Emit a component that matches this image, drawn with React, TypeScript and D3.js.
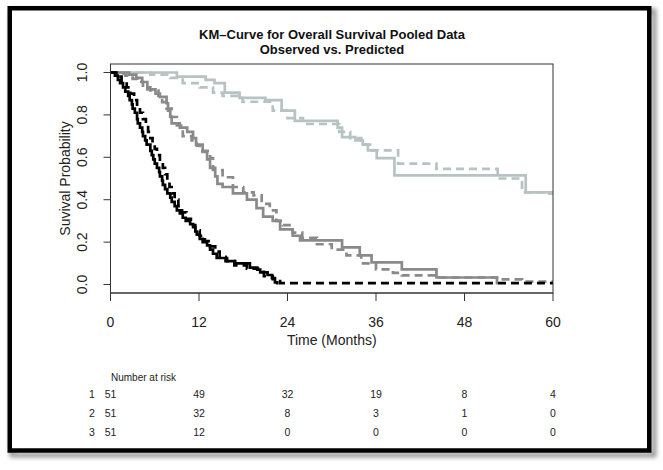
import React from "react";
import * as d3 from "d3";

// ---- data ----
const timeTicks = [0, 12, 24, 36, 48, 60];
const survTicks = [0, 0.2, 0.4, 0.6, 0.8, 1.0];
const riskGroups = ["1", "2", "3"];
const riskGroup1 = [51, 49, 32, 19, 8, 4];
const riskGroup2 = [51, 32, 8, 3, 1, 0];
const riskGroup3 = [51, 12, 0, 0, 0, 0];

// step curves: [time (months), survival after that time]
const g1Observed: [number, number][] = [
  [0, 1], [9.0, 0.98], [12.9, 0.965], [14.1, 0.95], [15.5, 0.905], [17.5, 0.88],
  [21.0, 0.87], [23.2, 0.82], [25.0, 0.772], [30.8, 0.74], [31.4, 0.695],
  [33.2, 0.68], [34.2, 0.66], [34.9, 0.633], [36.1, 0.596], [38.5, 0.515],
  [56.3, 0.435], [60, 0.435],
];
const g1Predicted: [number, number][] = [
  [0, 1], [5.4, 0.99], [8.1, 0.975], [9.8, 0.95], [12.1, 0.93], [13.9, 0.905],
  [15.2, 0.89], [17.9, 0.862], [22.0, 0.82], [24.0, 0.785], [26.1, 0.757],
  [31.0, 0.72], [32.5, 0.69], [34.0, 0.66], [35.5, 0.633], [39.0, 0.57],
  [44.2, 0.545], [52.5, 0.5], [55.8, 0.435], [59.5, 0.428], [60, 0.428],
];
const g2Observed: [number, number][] = [
  [0, 1], [2.5, 0.99], [3.5, 0.975], [4.3, 0.955], [5.0, 0.92], [6.1, 0.9],
  [6.7, 0.885], [7.6, 0.855], [7.8, 0.82], [8.1, 0.79], [8.3, 0.76], [9.4, 0.74],
  [10.4, 0.72], [11.2, 0.69], [11.6, 0.66], [12.5, 0.625], [13.1, 0.59],
  [13.5, 0.55], [14.2, 0.51], [14.5, 0.475], [15.2, 0.46], [16.6, 0.43],
  [18.5, 0.4], [19.8, 0.36], [20.7, 0.32], [22.0, 0.3], [23.0, 0.26],
  [24.7, 0.23], [25.7, 0.208], [31.4, 0.175], [33.8, 0.137], [35.4, 0.104],
  [39.5, 0.071], [44.2, 0.033], [52.4, 0.0],
];
const g2Predicted: [number, number][] = [
  [0, 1], [1.3, 0.995], [2.0, 0.985], [3.0, 0.97], [3.6, 0.955], [4.4, 0.93],
  [5.4, 0.915], [6.5, 0.89], [7.0, 0.86], [7.6, 0.83], [8.3, 0.79], [9.0, 0.75],
  [9.8, 0.7], [11.0, 0.68], [11.7, 0.655], [12.1, 0.63], [13.5, 0.596],
  [13.9, 0.54], [15.2, 0.506], [16.6, 0.46], [18.0, 0.435], [19.4, 0.42],
  [20.5, 0.38], [21.6, 0.35], [22.5, 0.3], [23.4, 0.28], [24.7, 0.245],
  [26.0, 0.22], [28.0, 0.19], [30.0, 0.165], [32.0, 0.137], [34.0, 0.1],
  [36.0, 0.071], [38.3, 0.055], [39.5, 0.043], [44.2, 0.033], [52.4, 0.024],
  [55.8, 0.014], [60, 0.014],
];
const g3Observed: [number, number][] = [
  [0, 1], [0.6, 0.985], [1.0, 0.965], [1.3, 0.95], [1.7, 0.93], [2.0, 0.91],
  [2.4, 0.89], [2.6, 0.87], [2.9, 0.85], [3.0, 0.83], [3.3, 0.81], [3.6, 0.78],
  [3.7, 0.76], [4.0, 0.74], [4.3, 0.72], [4.4, 0.7], [4.7, 0.68], [4.9, 0.66],
  [5.4, 0.63], [5.6, 0.61], [5.8, 0.59], [6.0, 0.57], [6.3, 0.55], [6.6, 0.53],
  [6.7, 0.51], [7.0, 0.49], [7.1, 0.47], [7.4, 0.45], [7.7, 0.43], [8.1, 0.41],
  [8.3, 0.39], [8.7, 0.37], [9.0, 0.35], [9.4, 0.335], [9.8, 0.315],
  [10.2, 0.3], [10.8, 0.285], [11.2, 0.27], [11.5, 0.25], [11.7, 0.235],
  [12.1, 0.215], [12.5, 0.2], [13.1, 0.185], [13.5, 0.165], [13.9, 0.145],
  [14.4, 0.125], [15.8, 0.11], [16.9, 0.1], [18.9, 0.08], [19.9, 0.07],
  [20.3, 0.057], [21.3, 0.045], [21.9, 0.03], [22.3, 0.01], [22.6, 0.0],
];
const g3Predicted: [number, number][] = [
  [0, 1], [0.8, 0.98], [1.5, 0.955], [2.2, 0.93], [2.7, 0.9], [3.2, 0.87],
  [3.6, 0.84], [4.0, 0.81], [4.4, 0.78], [4.8, 0.75], [5.1, 0.72], [5.4, 0.69],
  [5.7, 0.665], [6.0, 0.64], [6.3, 0.61], [6.7, 0.58], [7.1, 0.55], [7.4, 0.52],
  [7.7, 0.49], [8.0, 0.46], [8.3, 0.43], [8.7, 0.4], [9.2, 0.37], [9.7, 0.34],
  [10.3, 0.31], [10.9, 0.28], [11.5, 0.255], [12.1, 0.23], [12.8, 0.205],
  [13.5, 0.18], [14.2, 0.155], [14.8, 0.13], [15.6, 0.11], [16.8, 0.09],
  [18.5, 0.075], [20.0, 0.06], [20.8, 0.04], [22.0, 0.025], [23.0, 0.007],
  [60, 0.007],
];

const curves = [
  { data: g1Observed, color: "#b7c3c3", dashed: false },
  { data: g1Predicted, color: "#b7c3c3", dashed: true },
  { data: g2Observed, color: "#8a8a8a", dashed: false },
  { data: g2Predicted, color: "#8a8a8a", dashed: true },
  { data: g3Observed, color: "#000000", dashed: false },
  { data: g3Predicted, color: "#000000", dashed: true },
];

const FONT = "'Liberation Sans', Arial, sans-serif";

export default function App() {
  const W = 663, H = 470;
  const left = 110.5, right = 553, top = 64, bottom = 293;
  const x = d3.scaleLinear().domain([0, 60]).range([left, right]);
  const y = d3.scaleLinear().domain([-0.04, 1.04]).range([bottom, top]);
  const line = d3
    .line<[number, number]>()
    .x((d) => x(d[0]))
    .y((d) => y(d[1]))
    .curve(d3.curveStepAfter);

  const riskRows = [riskGroup1, riskGroup2, riskGroup3];
  const rowY = [398, 417, 436];

  return (
    <svg
      width={W}
      height={H}
      style={{ position: "absolute", left: 0, top: 0, background: "#fff" }}
      fontFamily={FONT}
    >
      <defs>
        <filter id="sh" x="-5%" y="-5%" width="110%" height="110%">
          <feGaussianBlur stdDeviation="2" />
        </filter>
      </defs>
      <rect x={12} y={11} width={642} height={444} fill="none" stroke="#9a9a9a" strokeWidth={5} filter="url(#sh)" />
      <rect x={9.75} y={8.25} width={639.5} height={442.25} fill="#fff" stroke="#000" strokeWidth={4.5} />

      {/* title */}
      <text x={332} y={39} textAnchor="middle" fontSize={13} fontWeight="bold" fill="#111">
        KM–Curve for Overall Survival Pooled Data
      </text>
      <text x={332} y={54} textAnchor="middle" fontSize={13} fontWeight="bold" fill="#111">
        Observed vs. Predicted
      </text>

      {/* curves */}
      {curves.map((c, i) => (
        <path
          key={i}
          d={line(c.data) || ""}
          fill="none"
          stroke={c.color}
          strokeWidth={2.7}
          strokeDasharray={c.dashed ? "8,5" : undefined}
        />
      ))}

      {/* box */}
      <rect x={left} y={top} width={right - left} height={bottom - top} fill="none" stroke="#333" strokeWidth={1} />

      {/* y axis */}
      <line x1={left} x2={left} y1={y(0)} y2={y(1)} stroke="#333" />
      {survTicks.map((t) => (
        <g key={t}>
          <line x1={left - 7} x2={left} y1={y(t)} y2={y(t)} stroke="#333" />
          <text
            transform={`translate(${87},${y(t)}) rotate(-90)`}
            textAnchor="middle"
            fontSize={14}
            fill="#222"
          >
            {t.toFixed(1)}
          </text>
        </g>
      ))}
      <text transform={`translate(70,${(y(0) + y(1)) / 2}) rotate(-90)`} textAnchor="middle" fontSize={14} fill="#222">
        Suvival Probability
      </text>

      {/* x axis */}
      <line x1={x(0)} x2={x(60)} y1={bottom} y2={bottom} stroke="#333" />
      {timeTicks.map((t) => (
        <g key={t}>
          <line x1={x(t)} x2={x(t)} y1={bottom} y2={bottom + 8} stroke="#333" />
          <text x={x(t)} y={327} textAnchor="middle" fontSize={14} fill="#222">
            {t}
          </text>
        </g>
      ))}
      <text x={(left + right) / 2} y={345} textAnchor="middle" fontSize={14} fill="#222">
        Time (Months)
      </text>

      {/* risk table */}
      <text x={111} y={381} fontSize={10} fill="#222">
        Number at risk
      </text>
      {riskRows.map((row, r) => (
        <g key={r}>
          <text x={92} y={rowY[r]} textAnchor="middle" fontSize={10.5} fill="#222">
            {riskGroups[r]}
          </text>
          {row.map((n, i) => (
            <text key={i} x={x(timeTicks[i])} y={rowY[r]} textAnchor="middle" fontSize={10.5} fill="#222">
              {n}
            </text>
          ))}
        </g>
      ))}
    </svg>
  );
}
